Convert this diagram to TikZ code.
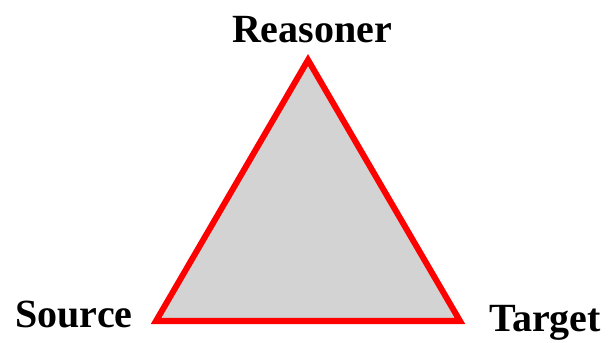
\documentclass[tikz,border=0pt]{standalone}
\usepackage{fontspec}
\setmainfont{Liberation Serif}
\usepackage{tikz}
\usetikzlibrary{positioning,calc}
\usepackage{xcolor}
\definecolor{edgered}{RGB}{255,0,0}
\definecolor{facegray}{RGB}{211,211,211}

\begin{document}
\begin{tikzpicture}[x=1pt, y=1pt,
    vertexlabel/.style={font=\fontsize{40}{44}\selectfont\bfseries, anchor=base, inner sep=0pt}]
  % Canvas
  \useasboundingbox (0,0) rectangle (609,342);

  % Triangle corners
  \coordinate (reasoner) at (308,282);
  \coordinate (source)   at (156,21);
  \coordinate (target)   at (460,21);

  % Filled triangle
  \draw[fill=facegray, draw=edgered, line width=6pt, line join=miter]
    (reasoner) -- (source) -- (target) -- cycle;

  % Labels
  \node[vertexlabel] (reasonerlabel) at (312,299) {Reasoner};
  \node[vertexlabel] (sourcelabel)   at (74,14)   {Source};
  \node[vertexlabel] (targetlabel)   at (545,10)  {Target};
\end{tikzpicture}
\end{document}
